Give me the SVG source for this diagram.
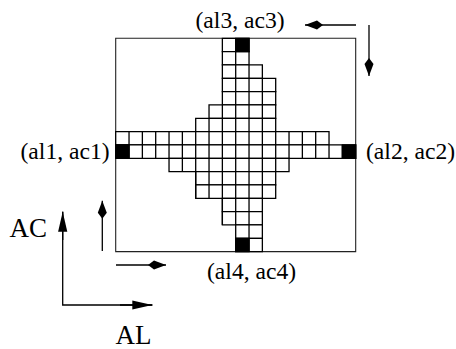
<svg xmlns="http://www.w3.org/2000/svg" width="456" height="349" viewBox="0 0 456 349">
<style>
.grid rect, .grid path { vector-effect: non-scaling-stroke; }
.lbl { font-family: "Liberation Serif", "Times New Roman", serif; font-size: 23.6px; fill: #000; }
.ax { font-family: "Liberation Serif", "Times New Roman", serif; font-size: 27px; fill: #000; }
.conn { stroke: #000; stroke-width: 1.3; fill: none; }
</style>
<defs>
<marker id="kite" markerUnits="userSpaceOnUse" viewBox="-20 -5 21 10" refX="0" refY="0" markerWidth="21" markerHeight="10" orient="auto">
<path d="M0,0 L-12,-4.5 L-18,0 L-12,4.5 Z" fill="#000"/>
</marker>
<marker id="tri" markerUnits="userSpaceOnUse" viewBox="-22 -6 23 12" refX="0" refY="0" markerWidth="23" markerHeight="12" orient="auto">
<path d="M0,0 L-20,-4.6 L-20,4.6 Z" fill="#000"/>
</marker>
</defs>
<rect width="456" height="349" fill="#fff"/>
<g id="grid" class="grid" transform="translate(115.7 38.3) scale(13.333)">
<rect x="0" y="0" width="18" height="16" fill="none" stroke="#222" stroke-width="1.1"/>
<g fill="#fff" stroke="#000" stroke-width="1.3">
<rect x="8" y="0" width="2" height="1"/>
<rect x="8" y="1" width="2" height="1"/>
<rect x="8" y="2" width="3" height="1"/>
<rect x="8" y="3" width="4" height="1"/>
<rect x="8" y="4" width="4" height="1"/>
<rect x="7" y="5" width="5" height="1"/>
<rect x="6" y="6" width="6" height="1"/>
<rect x="0" y="7" width="16" height="1"/>
<rect x="0" y="8" width="18" height="1"/>
<rect x="4" y="9" width="9" height="1"/>
<rect x="6" y="10" width="6" height="1"/>
<rect x="6" y="11" width="6" height="1"/>
<rect x="8" y="12" width="3" height="1"/>
<rect x="8" y="13" width="3" height="1"/>
<rect x="9" y="14" width="2" height="1"/>
<rect x="9" y="15" width="2" height="1"/>
<path d="M9 0V2 M9 2V5 M10 2V5 M11 3V5 M8 5V6 M9 5V6 M10 5V6 M11 5V6 M7 6V7 M8 6V7 M9 6V7 M10 6V7 M11 6V7 M1 7V9 M2 7V9 M3 7V9 M4 7V9 M5 7V10 M6 7V12 M7 7V12 M8 7V14 M9 7V14 M10 7V16 M11 7V12 M12 7V10 M13 7V9 M14 7V9 M15 7V9 M16 8V9 M17 8V9" fill="none"/>
</g>
<g fill="#000" stroke="#000" stroke-width="1.3">
<rect x="9" y="0" width="1" height="1"/>
<rect x="0" y="8" width="1" height="1"/>
<rect x="17" y="8" width="1" height="1"/>
<rect x="9" y="15" width="1" height="1"/>
</g>
</g>
<g id="connectors">
<line class="conn" x1="356" y1="25" x2="305" y2="25" marker-end="url(#kite)"/>
<line class="conn" x1="369" y1="25" x2="369" y2="76" marker-end="url(#kite)"/>
<line class="conn" x1="102.3" y1="251" x2="102.3" y2="200.7" marker-end="url(#kite)"/>
<line class="conn" x1="116" y1="265" x2="166" y2="265" marker-end="url(#kite)"/>
<polyline class="conn" points="62.7,211.7 62.7,305 152.3,305"/>
<line class="conn" x1="62.7" y1="240" x2="62.7" y2="211.7" marker-end="url(#tri)"/>
<line class="conn" x1="120" y1="305" x2="152.3" y2="305" marker-end="url(#tri)"/>
</g>
<g id="label-al1"><text class="lbl" x="20.5" y="159">(al1, ac1)</text></g>
<g id="label-al2"><text class="lbl" x="366" y="159">(al2, ac2)</text></g>
<g id="label-al3"><text class="lbl" x="195.5" y="28">(al3, ac3)</text></g>
<g id="label-al4"><text class="lbl" x="207" y="279">(al4, ac4)</text></g>
<g id="label-AC"><text class="ax" x="9.5" y="237">AC</text></g>
<g id="label-AL"><text class="ax" x="115.5" y="344">AL</text></g>
</svg>
